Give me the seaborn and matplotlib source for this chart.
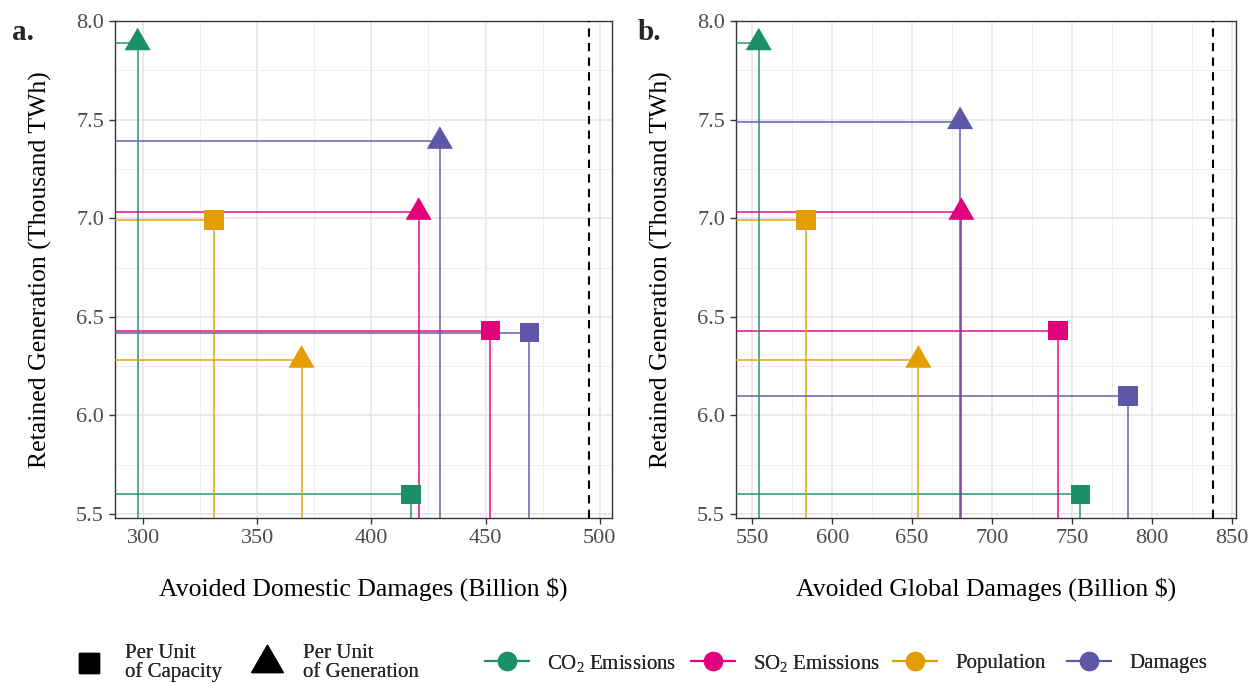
import numpy as np
import pandas as pd
import matplotlib
matplotlib.use("Agg")
import matplotlib.pyplot as plt
import seaborn as sns
from matplotlib.lines import Line2D
from matplotlib.path import Path
from matplotlib.ticker import MultipleLocator, FormatStrFormatter

# ---------------- data ----------------
metrics = ["CO2 Emissions", "SO2 Emissions", "Population", "Damages"]
metric_labels = ["CO$_\\mathrm{2}$ Emissions", "SO$_\\mathrm{2}$ Emissions", "Population", "Damages"]
colors = ["#1b8f66", "#e2007b", "#e39d00", "#5f56a7"]

# panel a: avoided domestic damages (Billion $) vs retained generation (Thousand TWh)
dom_cap_x = [417.4, 452.1, 331.1, 469.2]
dom_cap_y = [5.60, 6.43, 6.99, 6.42]
dom_gen_x = [297.6, 420.7, 369.4, 430.0]
dom_gen_y = [7.89, 7.03, 6.28, 7.39]
dom_ref = 495.5

# panel b: avoided global damages
glob_cap_x = [755.3, 741.4, 583.6, 785.2]
glob_cap_y = [5.60, 6.43, 6.99, 6.10]
glob_gen_x = [554.0, 680.8, 653.9, 680.0]
glob_gen_y = [7.89, 7.03, 6.28, 7.49]
glob_ref = 838.4

y_ticks = [5.5, 6.0, 6.5, 7.0, 7.5, 8.0]

# ---------------- style ----------------
sns.set_theme(style="white")
plt.rcParams["font.family"] = ["Liberation Serif", "DejaVu Serif"]
plt.rcParams["mathtext.fontset"] = "custom"
plt.rcParams["mathtext.rm"] = "Liberation Serif"
plt.rcParams["mathtext.it"] = "Liberation Serif:italic"

tri = Path([(0, 1.0), (-0.866, -0.5), (0.866, -0.5), (0, 1.0)],
           [Path.MOVETO, Path.LINETO, Path.LINETO, Path.CLOSEPOLY])

fig = plt.figure(figsize=(12.52, 6.83), dpi=100)
ax_a = fig.add_axes([115 / 1252, 1 - 518 / 683, 497 / 1252, 497 / 683])
ax_b = fig.add_axes([736 / 1252, 1 - 518 / 683, 500 / 1252, 497 / 683])


def draw_panel(ax, cap_x, cap_y, gen_x, gen_y, ref, xlabel, xticks):
    lo = min(min(cap_x), min(gen_x))
    hi = ref
    pad = 0.05 * (hi - lo)
    xlo, xhi = lo - pad, hi + pad
    ylo, yhi = 5.48, 8.0
    ax.set_xlim(xlo, xhi)
    ax.set_ylim(ylo, yhi)

    df = pd.DataFrame({
        "x": cap_x + gen_x,
        "y": cap_y + gen_y,
        "metric": metrics + metrics,
        "type": ["Capacity"] * 4 + ["Generation"] * 4,
    })
    pal = dict(zip(metrics, colors))
    # guide segments
    for _, r in df.iterrows():
        c = pal[r["metric"]]
        ax.hlines(r["y"], xlo, r["x"], color=c, lw=1.3, alpha=0.8, zorder=3)
        ax.vlines(r["x"], ylo, r["y"], color=c, lw=1.3, alpha=0.8, zorder=3)

    sns.scatterplot(data=df[df["type"] == "Capacity"], x="x", y="y", hue="metric",
                    palette=pal, marker="s", s=200, linewidth=0, legend=False,
                    ax=ax, zorder=5)
    sns.scatterplot(data=df[df["type"] == "Generation"], x="x", y="y", hue="metric",
                    palette=pal, marker=tri, s=470, linewidth=0, legend=False,
                    ax=ax, zorder=5)

    ax.axvline(ref, color="black", ls=(0, (4, 3)), lw=1.5, zorder=4)

    ax.set_xticks(xticks)
    ax.xaxis.set_minor_locator(MultipleLocator(25))
    ax.set_yticks(y_ticks)
    ax.yaxis.set_minor_locator(MultipleLocator(0.25))
    ax.yaxis.set_major_formatter(FormatStrFormatter("%.1f"))
    ax.grid(which="major", color="#e6e6e6", lw=1.2, zorder=0)
    ax.grid(which="minor", color="#efefef", lw=0.7, zorder=0)
    ax.set_axisbelow(True)
    for s in ax.spines.values():
        s.set_color("#333333")
        s.set_linewidth(1.0)
    ax.tick_params(which="major", direction="out", length=4, width=1.0,
                   color="#333333", labelcolor="#4d4d4d", labelsize=16,
                   bottom=True, left=True, pad=4)
    ax.tick_params(which="minor", length=0)
    ax.set_xlabel(xlabel, fontsize=18.5, color="black", labelpad=21)
    ax.set_ylabel("Retained Generation (Thousand TWh)", fontsize=18.5,
                  color="black", labelpad=17)


draw_panel(ax_a, dom_cap_x, dom_cap_y, dom_gen_x, dom_gen_y, dom_ref,
           "Avoided Domestic Damages (Billion $)", [300, 350, 400, 450, 500])
draw_panel(ax_b, glob_cap_x, glob_cap_y, glob_gen_x, glob_gen_y, glob_ref,
           "Avoided Global Damages (Billion $)", [550, 600, 650, 700, 750, 800, 850])

fig.text(12 / 1252, 1 - 32 / 683, "a.", fontsize=21, fontweight="bold", va="center", ha="left")
fig.text(638 / 1252, 1 - 32 / 683, "b.", fontsize=21, fontweight="bold", va="center", ha="left")

# legends
shape_handles = [
    Line2D([], [], ls="none", marker="s", markersize=14.5, color="black"),
    Line2D([], [], ls="none", marker=tri, markersize=26, color="black"),
]
leg1 = fig.legend(shape_handles, ["Per Unit\nof Capacity", "Per Unit\nof Generation"],
                  loc="center left", bbox_to_anchor=(74 / 1252, 1 - 663 / 683),
                  ncol=2, frameon=False, fontsize=15, handlelength=1.4,
                  handletextpad=1.05, columnspacing=1.45, borderpad=0,
                  borderaxespad=0)
for t in leg1.get_texts():
    t.set_linespacing(1.0)
fig.add_artist(leg1)

legend_starts = [485, 691, 893, 1067]
for c, lab, x0 in zip(colors, metric_labels, legend_starts):
    h = Line2D([], [], color=c, lw=1.5, marker="o", markersize=13)
    lg = fig.legend([h], [lab], loc="center left",
                    bbox_to_anchor=(x0 / 1252, 1 - 663 / 683),
                    frameon=False, fontsize=15, handlelength=2.1,
                    handletextpad=0.87, borderpad=0, borderaxespad=0)
    fig.add_artist(lg)

fig.savefig("out.png", dpi=100)
